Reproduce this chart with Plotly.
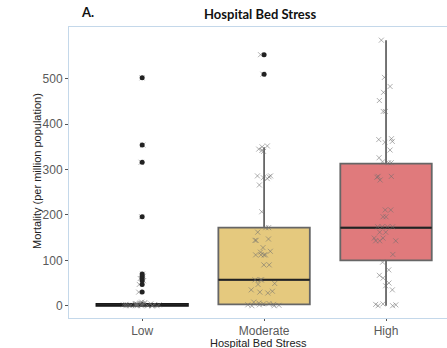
import plotly.graph_objects as go

categories = ["Low", "Moderate", "High"]

low_vals = [502, 354, 316, 196, 70, 65, 60, 55, 47, 30, 0, 0, 0, 0, 0, 0, 0, 0, 1, 1, 1, 1,
            2, 2, 2, 2, 3, 3, 3, 3, 4, 4, 4, 5, 5, 6, 7, 8]
moderate_vals = [553, 510, 352, 350, 345, 342, 340, 286, 286, 284, 282, 280, 266, 207, 172, 172,
                 162, 147, 144, 144, 128, 120, 118, 112, 112, 112, 112, 90, 90, 57, 57, 57, 49, 47,
                 35, 32, 30, 28, 8, 6, 5, 4, 3, 2, 2, 1, 0, 0]
high_vals = [585, 503, 483, 470, 452, 428, 428, 368, 366, 362, 360, 343, 326, 317, 315, 315, 285,
             285, 283, 277, 211, 211, 196, 196, 174, 174, 174, 174, 162, 162, 149, 149, 143, 143,
             143, 113, 96, 79, 67, 61, 50, 44, 35, 4, 3, 2, 0, 0]

low_outliers = [502, 354, 316, 196, 70, 65, 60, 55, 47, 30]
moderate_outliers = [553, 510]
high_outliers = []

# box statistics: q1, median, q3, lower whisker, upper whisker
q1 = [0, 3, 100]
median = [3, 57, 172]
q3 = [4, 172, 313]
lower = [0, 0, 0]
upper = [8, 349, 585]

fills = ["rgba(0,0,0,0)", "#e5c97e", "#e07a7c"]
edges = ["#111111", "#666666", "#666666"]

all_vals = [low_vals, moderate_vals, high_vals]
all_out = [low_outliers, moderate_outliers, high_outliers]

fig = go.Figure()

for i, cat in enumerate(categories):
    fig.add_trace(go.Box(
        x=[cat], q1=[q1[i]], median=[median[i]], q3=[q3[i]],
        lowerfence=[lower[i]], upperfence=[upper[i]],
        fillcolor=fills[i], line=dict(color=edges[i], width=1.8),
        width=0.75, boxpoints=False, showlegend=False, whiskerwidth=0,
    ))
    # median line
    fig.add_trace(go.Box(
        x=[cat], q1=[median[i]], median=[median[i]], q3=[median[i]],
        lowerfence=[median[i]], upperfence=[median[i]],
        fillcolor="rgba(0,0,0,0)", line=dict(color="#222222", width=2),
        width=0.75, boxpoints=False, showlegend=False, whiskerwidth=0,
    ))

for i, cat in enumerate(categories):
    fig.add_trace(go.Box(
        x=[cat] * len(all_vals[i]), y=all_vals[i],
        boxpoints="all", jitter=0.42, pointpos=0, width=0.75,
        fillcolor="rgba(0,0,0,0)", line=dict(color="rgba(0,0,0,0)", width=0),
        marker=dict(symbol="x-thin", size=5, color="rgba(110,110,110,0.55)",
                    line=dict(width=1, color="rgba(110,110,110,0.55)")),
        showlegend=False,
    ))

for i, cat in enumerate(categories):
    if all_out[i]:
        fig.add_trace(go.Scatter(
            x=[cat] * len(all_out[i]), y=all_out[i], mode="markers",
            marker=dict(color="#222222", size=5), showlegend=False,
        ))

axis_line = "rgb(196,216,234)"
fig.update_layout(
    width=447, height=348,
    margin=dict(l=69, r=0, t=27, b=30),
    paper_bgcolor="white", plot_bgcolor="white",
    boxmode="overlay",
    font=dict(family="Liberation Sans, Arial", size=12, color="#555555"),
    xaxis=dict(
        type="category", categoryorder="array", categoryarray=categories,
        range=[-0.6, 2.5], showgrid=False, zeroline=False,
        showline=True, linecolor=axis_line, linewidth=1, mirror=True,
        ticks="outside", ticklen=2, tickcolor="#555555",
        tickfont=dict(size=12, color="#5a5a5a"),
    ),
    yaxis=dict(
        range=[-27, 614], tickvals=[0, 100, 200, 300, 400, 500],
        showgrid=False, zeroline=False,
        showline=True, linecolor=axis_line, linewidth=1, mirror=True,
        ticks="outside", ticklen=3, tickcolor="#555555",
        tickfont=dict(size=12, color="#5a5a5a"),
    ),
    annotations=[
        dict(text="<b>Hospital Bed Stress</b>", xref="paper", yref="paper",
             x=0.505, y=1.045, xanchor="center", yanchor="middle", showarrow=False,
             font=dict(family="Lato, Open Sans", size=13, color="#111111")),
        dict(text="<b>A.</b>", xref="paper", yref="paper",
             x=0.026, y=1.05, xanchor="left", yanchor="middle", showarrow=False,
             font=dict(family="Lato, Open Sans", size=13, color="#111111")),
        dict(text="Hospital Bed Stress", xref="paper", yref="paper",
             x=0.5, y=-0.085, xanchor="center", yanchor="middle", showarrow=False,
             font=dict(family="Liberation Sans, Arial", size=11, color="#222222")),
        dict(text="Mortality (per million population)", xref="paper", yref="paper",
             x=-0.0847, y=0.505, xanchor="center", yanchor="middle", showarrow=False,
             textangle=-90,
             font=dict(family="Liberation Sans, Arial", size=11, color="#222222")),
    ],
)

fig.write_html("out.html", config={"displayModeBar": False},
               post_script="document.body.style.margin='0';document.body.style.padding='0';")
